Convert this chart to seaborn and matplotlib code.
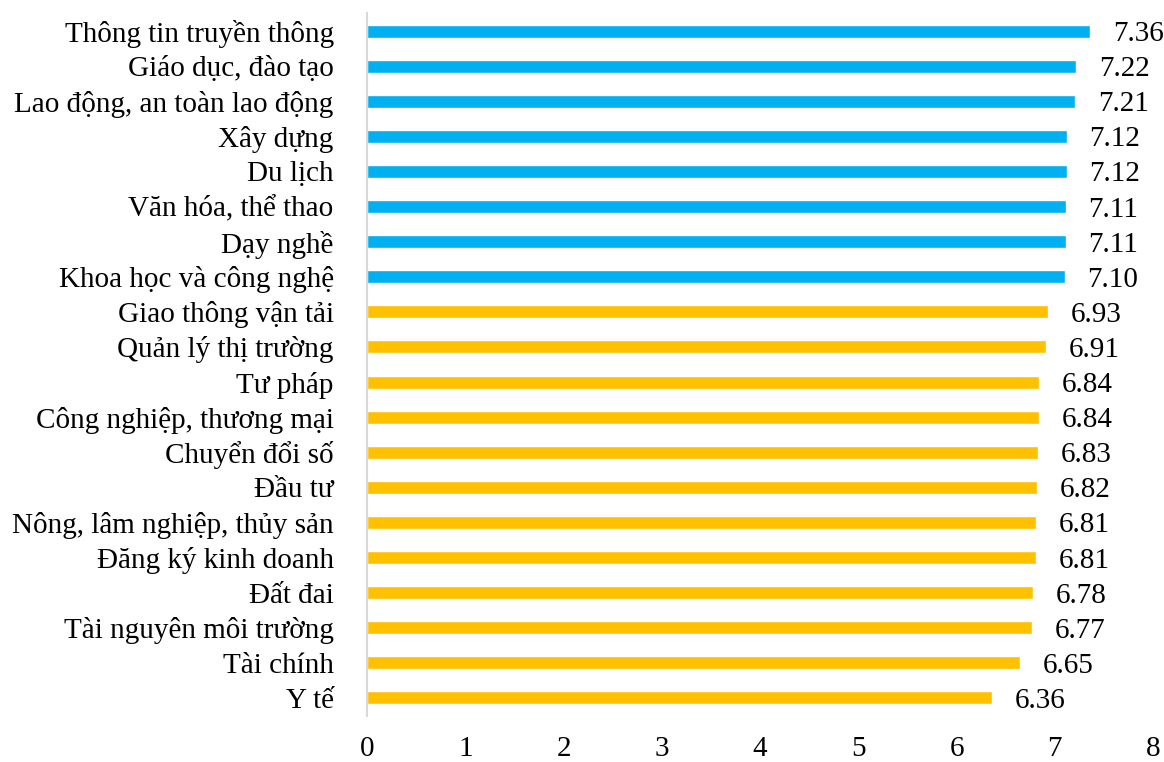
import matplotlib
matplotlib.use("Agg")
import matplotlib.pyplot as plt
import seaborn as sns
import pandas as pd

categories = [
    "Thông tin truyền thông", "Giáo dục, đào tạo", "Lao động, an toàn lao động",
    "Xây dựng", "Du lịch", "Văn hóa, thể thao", "Dạy nghề",
    "Khoa học và công nghệ", "Giao thông vận tải", "Quản lý thị trường",
    "Tư pháp", "Công nghiệp, thương mại", "Chuyển đổi số", "Đầu tư",
    "Nông, lâm nghiệp, thủy sản", "Đăng ký kinh doanh", "Đất đai",
    "Tài nguyên môi trường", "Tài chính", "Y tế",
]
values = [7.36, 7.22, 7.21, 7.12, 7.12, 7.11, 7.11, 7.10, 6.93, 6.91,
          6.84, 6.84, 6.83, 6.82, 6.81, 6.81, 6.78, 6.77, 6.65, 6.36]
groups = ["high"] * 8 + ["low"] * 12
colors = {"high": "#00B0F0", "low": "#FFC000"}

df = pd.DataFrame({"cat": categories, "val": values, "grp": groups})

sns.set_style("white")
plt.rcParams["font.family"] = ["Liberation Serif", "DejaVu Serif"]
plt.rcParams["text.color"] = "black"
plt.rcParams["xtick.color"] = "black"
plt.rcParams["ytick.color"] = "black"

fig = plt.figure(figsize=(11.64, 7.62), dpi=100)
ax = fig.add_axes([0.3153, 0.061, 0.6753, 0.9213])

sns.barplot(data=df, x="val", y="cat", hue="grp", palette=colors,
            dodge=False, width=0.37, saturation=1, legend=False, ax=ax)

for i, v in enumerate(values):
    ax.text(v + 0.23, i, f"{v:.2f}", va="center_baseline", ha="left",
            fontsize=21, color="black")

ax.set_xlim(0, 8)
ax.set_ylim(19.5, -0.5)
ax.set_xticks(range(0, 9))
ax.set_xlabel("")
ax.set_ylabel("")
ax.tick_params(axis="both", labelsize=21, length=0)
ax.tick_params(axis="x", pad=15)
ax.tick_params(axis="y", pad=24)
for s in ["top", "right", "bottom"]:
    ax.spines[s].set_visible(False)
ax.spines["left"].set_color("#D9D9D9")
ax.spines["left"].set_linewidth(1.5)

fig.savefig("out.png", dpi=100)
